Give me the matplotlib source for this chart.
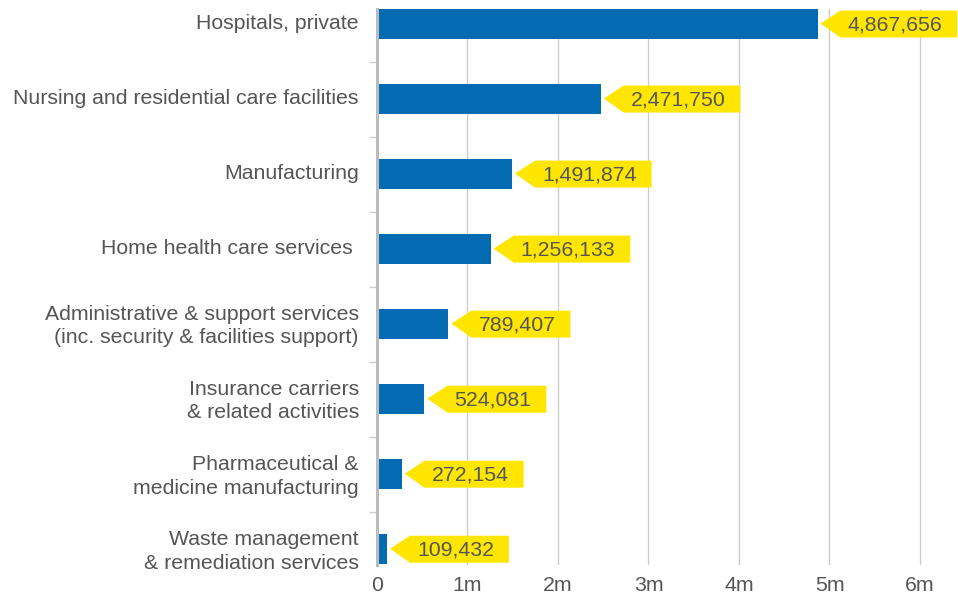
import numpy as np
import matplotlib
matplotlib.use('Agg')
import matplotlib.pyplot as plt
from matplotlib.patches import Polygon
from matplotlib.transforms import IdentityTransform, ScaledTranslation

# data
categories = [
    'Hospitals, private',
    'Nursing and residential care facilities',
    'Manufacturing',
    'Home health care services ',
    'Administrative & support services\n(inc. security & facilities support)',
    'Insurance carriers\n& related activities',
    'Pharmaceutical &\nmedicine manufacturing',
    'Waste management\n& remediation services',
]
values = [4867656, 2471750, 1491874, 1256133, 789407, 524081, 272154, 109432]
x_ticks = [0, 1e6, 2e6, 3e6, 4e6, 5e6, 6e6]
x_tick_labels = ['0', '1m', '2m', '3m', '4m', '5m', '6m']

BAR = '#046bb3'
YELLOW = '#ffe600'
TEXT = '#555555'

plt.rcParams['font.family'] = ['Liberation Sans', 'DejaVu Sans']

fig = plt.figure(figsize=(9.58, 5.94), dpi=100)
ax = fig.add_axes([377 / 958, 1 - 565 / 594, 1 - 377 / 958, (565 - 9) / 594])

y = np.arange(len(categories))
ax.barh(y, values, height=0.4, color=BAR, zorder=3)

ax.set_ylim(len(categories) - 1 + 0.21, -0.2)
ax.set_xlim(0, 6.42e6)

# axes styling
for s in ['top', 'right', 'bottom']:
    ax.spines[s].set_visible(False)
ax.spines['left'].set_color('#bbbbbb')
ax.spines['left'].set_linewidth(2.2)
ax.spines['left'].set_zorder(4)

ax.set_xticks(x_ticks)
ax.set_xticklabels(x_tick_labels)
ax.tick_params(axis='x', length=0, pad=8, labelsize=15.3, labelcolor=TEXT)
ax.xaxis.grid(True, color='#cccccc', linewidth=1)
ax.set_axisbelow(True)

ax.set_yticks(y)
ax.set_yticklabels(categories, linespacing=1.32)
ax.tick_params(axis='y', which='major', length=0, pad=13, labelsize=15.3, labelcolor=TEXT)
ax.set_yticks(np.arange(0.5, len(categories) - 1, 1), minor=True)
ax.tick_params(axis='y', which='minor', length=6, width=1, color='#cccccc')

# nudge category labels up a little
shift = ScaledTranslation(0, 2.5 / 100, fig.dpi_scale_trans)
for lab in ax.get_yticklabels():
    lab.set_transform(lab.get_transform() + shift)

# value callouts
texts = []
for i, v in enumerate(values):
    t = ax.annotate(f'{v:,}', xy=(v, i), xytext=(30, -1), textcoords='offset pixels',
                    ha='left', va='center', fontsize=15.3, color=TEXT, zorder=6,
                    annotation_clip=False)
    texts.append(t)

fig.canvas.draw()
r = fig.canvas.get_renderer()
for i, v in enumerate(values):
    xd, yd = ax.transData.transform((v, i))
    bb = texts[i].get_window_extent(r)
    tip = xd + 3
    bl = tip + 20
    br = bb.x1 + 15
    h = 13.5
    pts = [(tip, yd + 0.5), (bl, yd + h), (br, yd + h), (br, yd - h), (bl, yd - h)]
    ax.add_patch(Polygon(pts, closed=True, facecolor=YELLOW, edgecolor='none',
                         transform=IdentityTransform(), clip_on=False, zorder=5))

fig.savefig('out.png', dpi=100)
